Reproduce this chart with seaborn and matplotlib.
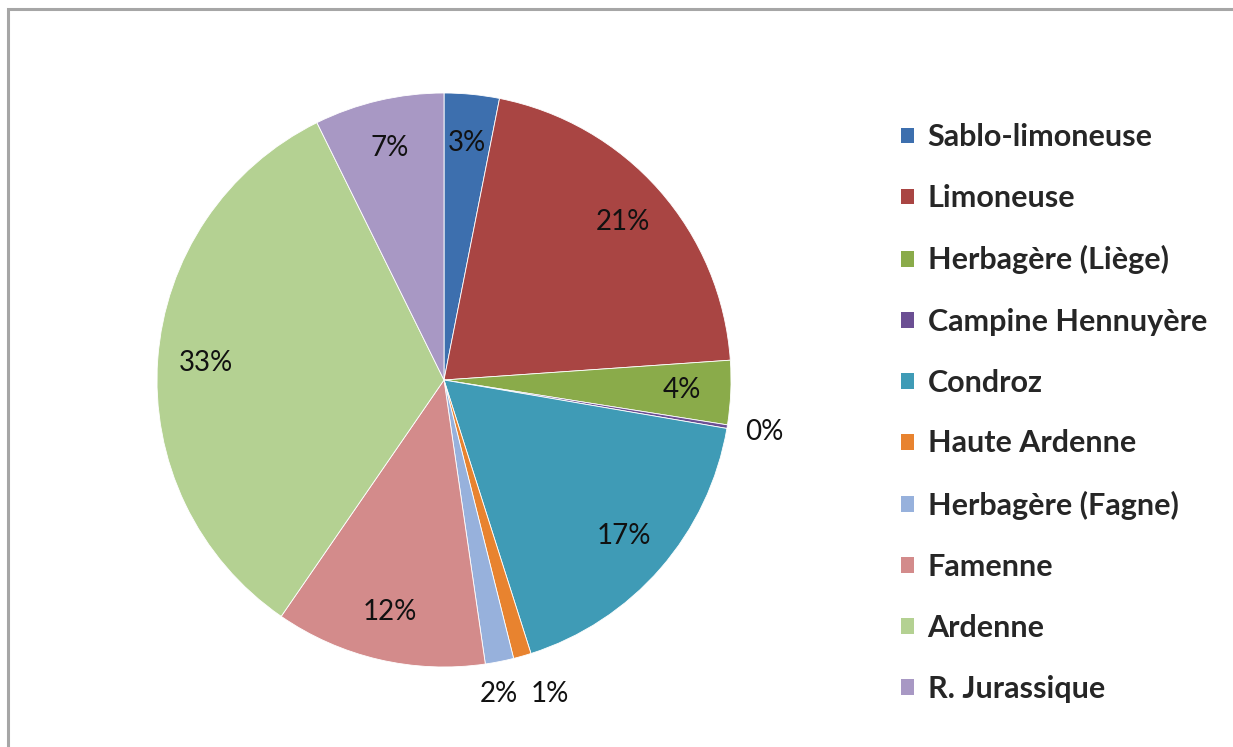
import matplotlib
matplotlib.use("Agg")
import matplotlib.pyplot as plt
import seaborn as sns
import numpy as np
from matplotlib.patches import Rectangle, Patch

sns.set_theme(style="white")
plt.rcParams['font.family'] = ['Lato', 'DejaVu Sans']

regions = ["Sablo-limoneuse", "Limoneuse", "Herbagère (Liège)", "Campine Hennuyère",
           "Condroz", "Haute Ardenne", "Herbagère (Fagne)", "Famenne", "Ardenne",
           "R. Jurassique"]
shares = [3.1, 20.8, 3.6, 0.2, 17.4, 1.0, 1.6, 11.9, 33.1, 7.3]
colors = ["#3d6fae", "#a94543", "#8aab4a", "#6b4f93", "#3f9bb6", "#e8832f",
          "#97b1dc", "#d38b8b", "#b4d192", "#a898c4"]

W, H = 1233, 747
fig = plt.figure(figsize=(W / 100, H / 100), dpi=100)

# outer frame
fig.patches.append(Rectangle((8 / W, -0.1), 1.2, (H - 9) / H + 0.1, transform=fig.transFigure,
                             fill=False, edgecolor="#a6a6a6", linewidth=2.2))

cx, cy, r = 444, 380, 287
span = 1.3
ax = fig.add_axes([(cx - r * span) / W, (H - cy - r * span) / H,
                   2 * r * span / W, 2 * r * span / H])

wedges, _ = ax.pie(shares, colors=colors, startangle=90, counterclock=False, radius=1,
                   wedgeprops=dict(linewidth=0.6, edgecolor="white"))
ax.set_xlim(-span, span)
ax.set_ylim(-span, span)
ax.set_aspect("equal")
ax.axis("off")

# percentage labels
for i, w in enumerate(wedges):
    ang = np.deg2rad((w.theta1 + w.theta2) / 2)
    txt = f"{round(shares[i]):d}%"
    if shares[i] < 2.5:
        rr = 1.11
        x, y = rr * np.cos(ang), rr * np.sin(ang)
        if i == 3:
            x += 0.02
        if i == 5:
            x, y = 0.37, -1.095
        if i == 6:
            x, y = 0.19, -1.095
        ax.text(x, y, txt, ha="center", va="center", fontsize=20, color="#111111")
    else:
        rr = 0.83
        ax.text(rr * np.cos(ang), rr * np.sin(ang), txt, ha="center", va="center",
                fontsize=20, color="#111111")

handles = [Patch(facecolor=c, edgecolor="none") for c in colors]
fig.legend(handles, regions, loc="center left", bbox_to_anchor=(901 / W, (H - 413) / H),
           frameon=False, prop=dict(size=22, weight="bold"), handlelength=0.42,
           handleheight=0.42, handletextpad=0.45, labelspacing=1.08, borderaxespad=0,
           borderpad=0)

fig.savefig("out.png", dpi=100)
